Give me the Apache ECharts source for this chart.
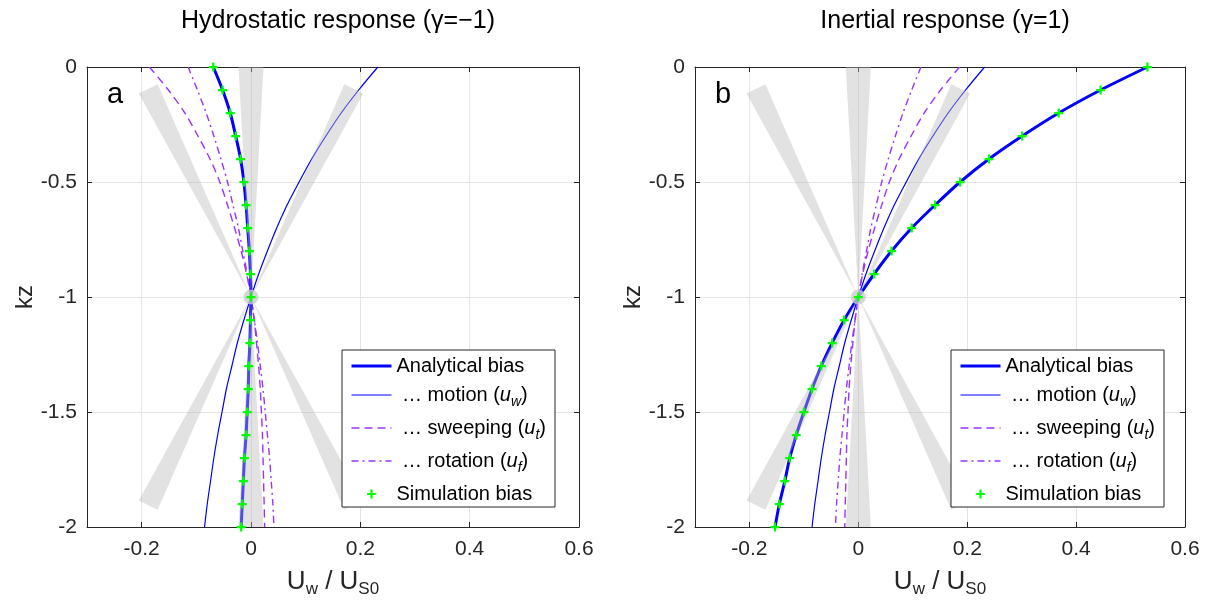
<!DOCTYPE html>
<html>
<head>
<meta charset="utf-8">
<script src="https://cdn.jsdelivr.net/npm/echarts@6/dist/echarts.min.js"></script>
<style>
html,body{margin:0;padding:0;background:#fff;}
#chart{width:1211px;height:607px;}
</style>
</head>
<body>
<div id="chart"></div>
<script>
// Depth levels (kz) shared by every profile
const kz = [0, -0.1, -0.2, -0.3, -0.4, -0.5, -0.6, -0.7, -0.8, -0.9, -1,
            -1.1, -1.2, -1.3, -1.4, -1.5, -1.6, -1.7, -1.8, -1.9, -2];

// Hydrostatic response (gamma = -1)
const hydroAnalytical = [-0.069, -0.052, -0.038, -0.028, -0.019, -0.013, -0.009, -0.006, -0.003, -0.001, 0,
                         -0.001, -0.002, -0.004, -0.005, -0.007, -0.009, -0.012, -0.014, -0.016, -0.018];
const hydroMotion     = [0.232, 0.197, 0.165, 0.137, 0.111, 0.088, 0.066, 0.047, 0.030, 0.014, 0,
                         -0.013, -0.025, -0.035, -0.045, -0.053, -0.061, -0.068, -0.074, -0.080, -0.085];
const hydroSweeping   = [-0.186, -0.151, -0.121, -0.097, -0.075, -0.057, -0.043, -0.030, -0.018, -0.008, 0,
                         0.006, 0.010, 0.014, 0.017, 0.019, 0.021, 0.022, 0.023, 0.024, 0.025];
const hydroRotation   = [-0.115, -0.098, -0.082, -0.068, -0.055, -0.043, -0.033, -0.023, -0.015, -0.007, 0,
                         0.006, 0.012, 0.017, 0.022, 0.026, 0.030, 0.034, 0.037, 0.040, 0.042];
const hydroSimulation = [-0.069, -0.052, -0.038, -0.028, -0.019, -0.013, -0.009, -0.006, -0.003, -0.001, 0,
                         -0.001, -0.002, -0.004, -0.005, -0.007, -0.009, -0.012, -0.014, -0.016, -0.018];

// Inertial response (gamma = 1)
const inertAnalytical = [0.531, 0.445, 0.368, 0.301, 0.240, 0.187, 0.141, 0.098, 0.061, 0.029, 0,
                         -0.026, -0.048, -0.068, -0.085, -0.100, -0.114, -0.126, -0.135, -0.145, -0.153];
const inertMotion     = [0.232, 0.197, 0.165, 0.137, 0.111, 0.088, 0.066, 0.047, 0.030, 0.014, 0,
                         -0.013, -0.025, -0.035, -0.045, -0.053, -0.061, -0.068, -0.074, -0.080, -0.085];
const inertSweeping   = [0.186, 0.151, 0.121, 0.097, 0.075, 0.057, 0.043, 0.030, 0.018, 0.008, 0,
                         -0.006, -0.010, -0.014, -0.017, -0.019, -0.021, -0.022, -0.023, -0.024, -0.025];
const inertRotation   = [0.115, 0.098, 0.082, 0.068, 0.055, 0.043, 0.033, 0.023, 0.015, 0.007, 0,
                         -0.006, -0.012, -0.017, -0.022, -0.026, -0.030, -0.034, -0.037, -0.040, -0.042];
const inertSimulation = [0.531, 0.445, 0.368, 0.301, 0.240, 0.187, 0.141, 0.098, 0.061, 0.029, 0,
                         -0.026, -0.048, -0.068, -0.085, -0.100, -0.114, -0.126, -0.135, -0.145, -0.153];

// Axis ranges and ticks
const xRange = [-0.3, 0.6];
const xTicks = [-0.2, 0, 0.2, 0.4, 0.6];
const yRange = [-2, 0];
const yStep = 0.5;

// Grey direction wedges radiating from the pivot point
const pivot = [0, -1];
const wedgeEnds = [[-0.188, -0.095], [0, 0], [0.188, -0.095],
                   [-0.188, -1.905], [0, -2], [0.188, -1.905]];

const panelTitles = ['Hydrostatic response (\u03b3=\u22121)', 'Inertial response (\u03b3=1)'];
const panelLetters = ['a', 'b'];
const legendNames = ['Analytical bias', '\u2026 motion', '\u2026 sweeping', '\u2026 rotation', 'Simulation bias'];
const legendSubs = {'\u2026 motion': 'w', '\u2026 sweeping': 't', '\u2026 rotation': 'f'};

// ---- styling ----
const FONT = '"Liberation Sans", Arial, Helvetica, sans-serif';
const INK = '#262626';
const BLUE = '#0000ff';
const PURPLE = '#9933ff';
const GREEN = '#00ff00';
const WEDGE_FILL = 'rgba(185,185,185,0.42)';
const wedgeHalfWidths = [10.5, 12.5, 10.5, 10.5, 12.5, 10.5];
const PLUS = 'path://M3,0H5V3H8V5H5V8H3V5H0V3H3Z';

const grids = [
  {left: 87, top: 67, width: 492, height: 460},
  {left: 695, top: 67, width: 490, height: 460}
];

function xAxisFor(g, bottom) {
  return {
    type: 'value', gridIndex: g, position: bottom ? 'bottom' : 'top',
    min: xRange[0], max: xRange[1],
    axisLine: {show: true, onZero: false, lineStyle: {color: INK, width: 1}},
    axisTick: {show: true, inside: true, length: 5, customValues: xTicks, lineStyle: {color: INK, width: 1}},
    axisLabel: {show: bottom, customValues: xTicks, margin: 12, color: INK, fontSize: 21, fontFamily: FONT},
    splitLine: {show: bottom, lineStyle: {color: '#e4e4e4', width: 1}},
    name: bottom ? '{m|U}{s|w}{m| / U}{s|S0}' : '',
    nameLocation: 'middle', nameGap: 38,
    nameTextStyle: {
      color: INK, fontFamily: FONT,
      rich: {
        m: {fontSize: 26, color: INK, fontFamily: FONT},
        s: {fontSize: 17, color: INK, fontFamily: FONT, padding: [16, 0, 0, 0]}
      }
    }
  };
}

function yAxisFor(g, left) {
  return {
    type: 'value', gridIndex: g, position: left ? 'left' : 'right',
    min: yRange[0], max: yRange[1], interval: yStep,
    axisLine: {show: true, onZero: false, lineStyle: {color: INK, width: 1}},
    axisTick: {show: true, inside: true, length: 5, lineStyle: {color: INK, width: 1}},
    axisLabel: {show: left, margin: 10, color: INK, fontSize: 21, fontFamily: FONT, showMinLabel: true, showMaxLabel: true},
    splitLine: {show: left, lineStyle: {color: '#e4e4e4', width: 1}},
    name: left ? 'kz' : '', nameLocation: 'middle', nameGap: 46, nameRotate: 90,
    nameTextStyle: {color: INK, fontSize: 24, fontFamily: FONT}
  };
}

function pts(arr) { return kz.map((z, i) => [arr[i], z]); }

function wedgeItem(params, api) {
  const apex = api.coord(pivot);
  const end = api.coord([api.value(0), api.value(1)]);
  const hw = wedgeHalfWidths[params.dataIndex];
  const dx = end[0] - apex[0], dy = end[1] - apex[1];
  const len = Math.hypot(dx, dy) || 1;
  const nx = -dy / len * hw, ny = dx / len * hw;
  return {
    type: 'polygon',
    shape: {points: [apex, [end[0] + nx, end[1] + ny], [end[0] - nx, end[1] - ny]]},
    style: {fill: WEDGE_FILL, stroke: null}
  };
}

function panelSeries(g, A, M, S, R, Sim) {
  const ax = {xAxisIndex: g * 2, yAxisIndex: g * 2};
  const line = (name, arr, style, z) => Object.assign({
    type: 'line', name, data: pts(arr), symbol: 'none', smooth: 0.3,
    lineStyle: style, itemStyle: {color: style.color}, z, silent: true, clip: true
  }, ax);
  return [
    line('\u2026 rotation', R, {color: PURPLE, width: 1.4, type: [7, 4, 2, 4]}, 2),
    line('\u2026 sweeping', S, {color: PURPLE, width: 1.4, type: [8, 5]}, 2),
    line('\u2026 motion', M, {color: BLUE, width: 1.2}, 2),
    line('Analytical bias', A, {color: BLUE, width: 3}, 3),
    Object.assign({
      type: 'custom', name: 'wedges', renderItem: wedgeItem, data: wedgeEnds,
      clip: true, z: 4, silent: true
    }, ax),
    Object.assign({
      type: 'scatter', name: 'pivot', data: [pivot], symbol: 'circle', symbolSize: 15,
      itemStyle: {color: '#cccccc'}, z: 5, silent: true
    }, ax),
    Object.assign({
      type: 'line', name: 'Simulation bias', data: pts(Sim), symbol: PLUS, symbolSize: 9,
      showSymbol: true, showAllSymbol: true,
      lineStyle: {opacity: 0, width: 0, color: GREEN}, itemStyle: {color: GREEN},
      z: 6, silent: true
    }, ax)
  ];
}

function legendFor(left) {
  return {
    orient: 'vertical', left, top: 350,
    data: legendNames.map((n, i) => {
      const item = {name: n};
      if (i < 4) {
        item.itemStyle = {opacity: 0};
        item.lineStyle = {width: i === 0 ? 3 : (i === 1 ? 1.2 : 1.4)};
      }
      return item;
    }),
    itemWidth: 40, itemHeight: 11, itemGap: 9,
    padding: [6, 9, 3, 8],
    borderColor: INK, borderWidth: 1, borderRadius: 0, backgroundColor: '#ffffff',
    selectedMode: false,
    formatter: name => {
      const sub = legendSubs[name];
      if (!sub) return '{t|' + name + '}';
      return '{t| ' + name + ' (}{i|u}{s|' + sub + '}{t|)}';
    },
    textStyle: {
      color: '#000', fontSize: 20, fontFamily: FONT,
      rich: {
        t: {fontSize: 20, color: '#000', fontFamily: FONT},
        i: {fontSize: 20, color: '#000', fontFamily: FONT, fontStyle: 'italic'},
        s: {fontSize: 14, color: '#000', fontFamily: FONT, fontStyle: 'italic', padding: [14, 0, 0, 0]}
      }
    },
    z: 10
  };
}

const option = {
  animation: false,
  backgroundColor: '#ffffff',
  title: panelTitles.map((t, i) => ({
    text: t, left: grids[i].left + grids[i].width / 2, top: 4, textAlign: 'center',
    textStyle: {fontSize: 25, fontWeight: 'normal', color: '#000', fontFamily: FONT}
  })),
  grid: grids.map(g => Object.assign({containLabel: false, outerBoundsMode: 'none'}, g)),
  xAxis: [xAxisFor(0, true), xAxisFor(0, false), xAxisFor(1, true), xAxisFor(1, false)],
  yAxis: [yAxisFor(0, true), yAxisFor(0, false), yAxisFor(1, true), yAxisFor(1, false)],
  legend: [legendFor(342), legendFor(951)],
  graphic: panelLetters.map((l, i) => ({
    type: 'text', left: grids[i].left + 20, top: 80, z: 20, silent: true,
    style: {text: l, fill: '#000', font: '29px ' + FONT}
  })),
  series: [
    ...panelSeries(0, hydroAnalytical, hydroMotion, hydroSweeping, hydroRotation, hydroSimulation),
    ...panelSeries(1, inertAnalytical, inertMotion, inertSweeping, inertRotation, inertSimulation)
  ]
};

const chart = echarts.init(document.getElementById('chart'), null, {renderer: 'canvas'});
chart.setOption(option);
</script>
</body>
</html>
